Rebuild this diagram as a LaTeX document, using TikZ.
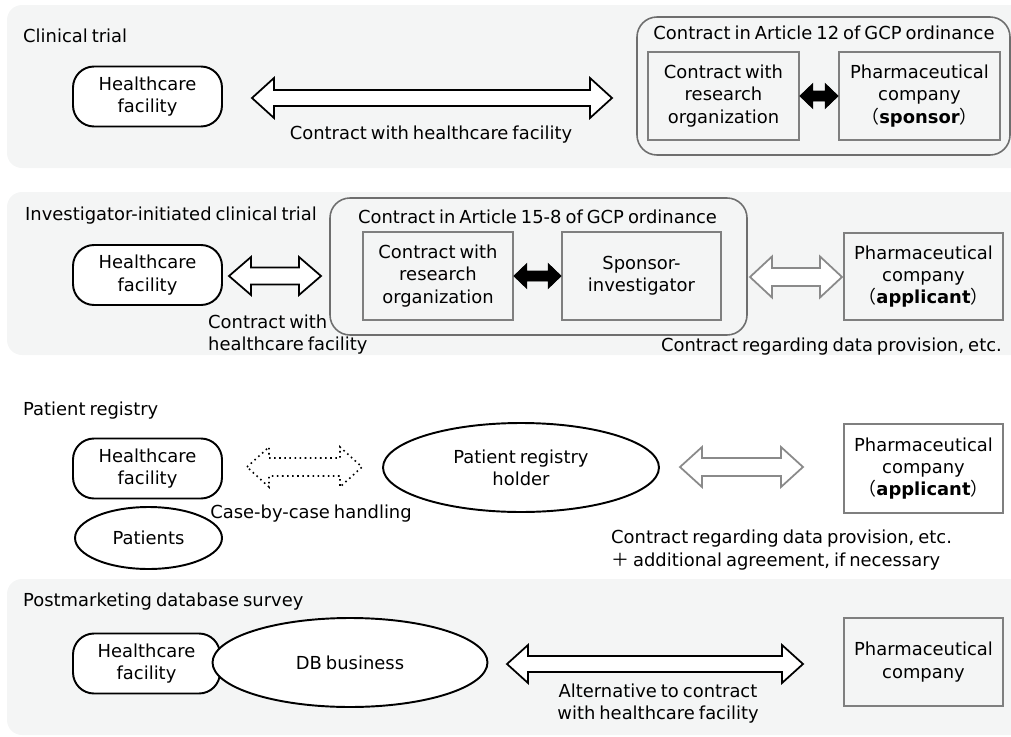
\documentclass[tikz,border=0pt]{standalone}
\usepackage{fontspec}
\setmainfont{DejaVu Sans}[WordSpace=0.7]
\newfontfamily\cjk{Noto Sans CJK JP}
\usetikzlibrary{shapes.geometric,calc}

\definecolor{panelbg}{HTML}{F4F5F5}
\definecolor{boxgray}{HTML}{7F7F7F}
\definecolor{grpgray}{HTML}{6E6E6E}
\definecolor{arrgray}{HTML}{8A8A8A}

\newcommand\jlpar{{\cjk （}}
\newcommand\jrpar{{\cjk ）}}
\newcommand\jplus{{\cjk ＋}}

% #2,#3 end coordinates, #4 shaft half height, #5 head half height, #6 head length
\newcommand\fatarrow[6][]{%
  \draw[#1] let \p1=(#2), \p2=(#3) in
    (\x1,\y1) -- (\x1+#6,\y1+#5) -- (\x1+#6,\y1+#4) -- (\x2-#6,\y1+#4)
    -- (\x2-#6,\y1+#5) -- (\x2,\y1) -- (\x2-#6,\y1-#5) -- (\x2-#6,\y1-#4)
    -- (\x1+#6,\y1-#4) -- (\x1+#6,\y1-#5) -- cycle;}

\begin{document}
\begin{tikzpicture}[x=0.02cm,y=-0.02cm,
    every node/.style={font=\fontsize{10.2}{12.6}\selectfont},
    panel/.style={fill=panelbg,rounded corners=0.3cm},
    hfbox/.style={draw,line width=1.1pt,rounded corners=0.42cm,fill=white,align=center,
      minimum width=2.98cm,minimum height=1.2cm},
    graybox/.style={draw=boxgray,line width=1pt,align=center,minimum height=1.76cm,inner sep=2pt},
    groupbox/.style={draw=grpgray,line width=0.9pt,rounded corners=0.4cm},
    ellnode/.style={ellipse,draw,line width=1.1pt,fill=white,inner sep=0pt,align=center},
    fatblack/.style={draw,line width=1pt,fill=white,line join=miter},
    fatgray/.style={draw=arrgray,line width=1pt,fill=white,line join=miter},
    fatdot/.style={draw,line width=0.9pt,dotted,fill=white},
    solidarr/.style={draw,fill=black}]

  \useasboundingbox (0,0) rectangle (1011,737);

  \fill[panel] (7,5) rectangle (1040,168);
  \fill[panel] (7,192) rectangle (1040,355);
  \fill[panel] (7,579) rectangle (1040,735);

  \node[anchor=west] (t1) at (17,36) {Clinical trial};
  \node[hfbox] (hf1) at (147.5,96.5) {Healthcare\\facility};
  \coordinate (a1l) at (252,98);
  \coordinate (a1r) at (612,98);
  \fatarrow[fatblack]{a1l}{a1r}{0.16cm}{0.4cm}{0.44cm}
  \node (l1) at (431,135) {Contract with healthcare facility};
  \draw[groupbox] (637,17) rectangle (1010,155);
  \node (g1) at (824,33) {Contract in Article 12 of GCP ordinance};
  \node[graybox,minimum width=3.02cm] (cro1) at (723.5,96) {Contract with\\research\\organization};
  \node[graybox,minimum width=3.22cm] (ph1) at (919.5,96) {Pharmaceutical\\company\\\jlpar\textbf{sponsor}\jrpar};
  \fatarrow[solidarr]{cro1.east}{ph1.west}{0.1cm}{0.25cm}{0.26cm}

  \node[anchor=west] (t2) at (19,216) {Investigator-initiated clinical trial};
  \node[hfbox] (hf2) at (147.5,275) {Healthcare\\facility};
  \coordinate (a2l) at (229,276);
  \coordinate (a2r) at (321,276);
  \fatarrow[fatblack]{a2l}{a2r}{0.17cm}{0.38cm}{0.44cm}
  \node[anchor=west,align=left] (l2) at (202,334.5) {Contract with\\healthcare facility};
  \draw[groupbox] (330,198) rectangle (747,335);
  \node (g2) at (537.5,217) {Contract in Article 15‑8 of GCP ordinance};
  \node[graybox,minimum width=3cm] (cro2) at (438,276) {Contract with\\research\\organization};
  \node[graybox,minimum width=3.18cm] (si) at (641.5,276) {Sponsor-\\investigator};
  \fatarrow[solidarr]{cro2.east}{si.west}{0.1cm}{0.25cm}{0.26cm}
  \coordinate (a3l) at (750,277);
  \coordinate (a3r) at (842,277);
  \fatarrow[fatgray]{a3l}{a3r}{0.18cm}{0.41cm}{0.44cm}
  \node[graybox,minimum width=3.18cm,minimum height=1.74cm] (ph2) at (923.5,276.5) {Pharmaceutical\\company\\\jlpar\textbf{applicant}\jrpar};
  \node[anchor=east] (l3) at (1008,347) {Contract regarding data provision, etc.};

  \node[anchor=west] (t3) at (17,411) {Patient registry};
  \node[hfbox] (hf3) at (147.5,468.5) {Healthcare\\facility};
  \node[ellnode,minimum width=2.94cm,minimum height=1.24cm] (pat) at (148.5,538) {Patients};
  \coordinate (a4l) at (247,467);
  \coordinate (a4r) at (362,467);
  \fatarrow[fatdot]{a4l}{a4r}{0.18cm}{0.4cm}{0.44cm}
  \node (l4) at (311,514) {Case-by-case handling};
  \node[ellnode,minimum width=5.52cm,minimum height=1.78cm] (prh) at (521,467.5) {Patient registry\\holder};
  \coordinate (a5l) at (680,467);
  \coordinate (a5r) at (803,467);
  \fatarrow[fatgray]{a5l}{a5r}{0.18cm}{0.4cm}{0.44cm}
  \node[graybox,minimum width=3.18cm,minimum height=1.78cm] (ph3) at (923.5,468.5) {Pharmaceutical\\company\\\jlpar\textbf{applicant}\jrpar};
  \node[anchor=west,align=left] (l5) at (605,550) {Contract regarding data provision, etc.\\\jplus{} additional agreement, if necessary};

  \node[anchor=west] (t4) at (17,602) {Postmarketing database survey};
  \node[hfbox,minimum width=2.94cm] (hf4) at (146.5,663.5) {Healthcare\\facility};
  \node[ellnode,minimum width=5.5cm,minimum height=1.78cm] (db) at (350,662.5) {DB business};
  \coordinate (a6l) at (507,664);
  \coordinate (a6r) at (803,664);
  \fatarrow[fatblack]{a6l}{a6r}{0.16cm}{0.38cm}{0.42cm}
  \node[align=center] (l6) at (658,703.5) {Alternative to contract\\with healthcare facility};
  \node[graybox,minimum width=3.18cm] (ph4) at (923.5,662) {Pharmaceutical\\company};
\end{tikzpicture}
\end{document}
